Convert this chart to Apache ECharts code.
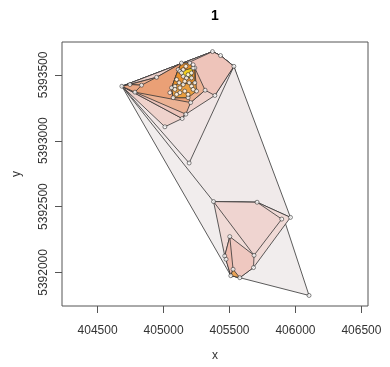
<!DOCTYPE html>
<html>
<head>
<meta charset="utf-8">
<script src="https://cdn.jsdelivr.net/npm/echarts@6/dist/echarts.min.js"></script>
<style>
  html, body { margin: 0; padding: 0; background: #fff; }
  #chart { width: 390px; height: 367px; }
</style>
</head>
<body>
<div id="chart"></div>
<script>
// Relocations (easting / northing, metres)
const xs = [
  404684, 404745, 404783, 404833, 404947, 405371, 405432, 405533, 405389, 405315,
  405205, 405169, 405141, 405010, 405194,
  405111, 405199, 405237, 405250, 405186, 405073, 405061, 405136,
  405124, 405224, 405212, 405149,
  405099, 405118, 405086, 405124, 405149, 405161, 405174, 405186, 405212, 405194,
  405212, 405161, 405124, 405099, 405086, 405186, 405224, 405237, 405149, 405169,
  405224, 405136, 405048,
  405379, 405709, 405962, 405896, 405502, 405464, 405474, 405686, 405682, 405527,
  405510, 405578, 406103
];
const ys = [
  5393414, 5393427, 5393369, 5393422, 5393482, 5393677, 5393647, 5393565, 5393344, 5393384,
  5393290, 5393202, 5393169, 5393106, 5392831,
  5393540, 5393590, 5393553, 5393377, 5393327, 5393327, 5393402, 5393590,
  5393527, 5393553, 5393477, 5393489,
  5393465, 5393440, 5393414, 5393402, 5393427, 5393452, 5393477, 5393502, 5393515, 5393440,
  5393414, 5393377, 5393365, 5393352, 5393390, 5393352, 5393390, 5393440, 5393540, 5393565,
  5393577, 5393515, 5393365,
  5392538, 5392533, 5392418, 5392405, 5392272, 5392125, 5392100, 5392130, 5392037, 5392024,
  5391975, 5391960, 5391825
];

// Hull outlines (relocation indices), drawn from the widest to the narrowest
const hulls = [
  [0, 5, 6, 7, 62, 61, 60],
  [0, 5, 6, 7, 52, 51, 50],
  [0, 5, 6, 7, 14],
  [50, 51, 52, 58, 61, 60, 56, 55],
  [50, 51, 53, 57],
  [54, 57, 58, 61, 60, 56, 55],
  [54, 59, 60, 55],
  [59, 60, 61],
  [0, 5, 6, 7, 8, 11, 12, 13],
  [0, 2, 11, 12],
  [0, 4, 5, 6, 7, 8, 9, 10, 12],
  [0, 1, 4, 22, 16, 17, 9, 10, 11, 2],
  [1, 3, 4, 22, 15, 21, 20, 19, 10, 2],
  [0, 1, 3, 2],
  [15, 22, 16, 17, 18, 19, 20, 21],
  [15, 22, 16, 17, 44, 36, 31, 28, 21],
  [23, 24, 25, 26]
];
const hullColors = [
  '#F1EDED', '#F0EAEA', '#F0E6E6',
  '#F0DAD6', '#EFD4D0', '#EFC8C0', '#EEBBAE', '#E9A256',
  '#EFD2CC', '#EECBC3', '#EEC4BA', '#ECB294', '#EAA076', '#EBA784',
  '#E99E40', '#E8902A', '#F2CF1E'
];

const xTicks = [404500, 405000, 405500, 406000, 406500];
const yTicks = [5392000, 5392500, 5393000, 5393500];

const FONT = "'Liberation Sans', Arial, sans-serif";
const plain = v => String(v);
const chart = echarts.init(document.getElementById('chart'), null, { renderer: 'canvas' });

chart.setOption({
  animation: false,
  backgroundColor: '#fff',
  graphic: [{
    type: 'text', x: 215, y: 16,
    style: { text: '1', fontFamily: FONT, fontWeight: 'bold', fontSize: 14, fill: '#000',
             textAlign: 'center', textVerticalAlign: 'middle' }
  }],
  grid: { left: 62, right: 22, top: 42, bottom: 58, show: true,
          borderColor: '#555', borderWidth: 1, backgroundColor: 'transparent' },
  xAxis: {
    type: 'value', min: 404230, max: 406550,
    name: 'x', nameLocation: 'middle', nameGap: 44,
    nameTextStyle: { fontFamily: FONT, fontSize: 12, color: '#333' },
    axisLine: { show: false }, splitLine: { show: false },
    axisTick: { show: true, length: 7, customValues: xTicks, lineStyle: { color: '#555' } },
    axisLabel: { customValues: xTicks, formatter: plain, margin: 19, fontFamily: FONT, fontSize: 12, color: '#333' }
  },
  yAxis: {
    type: 'value', min: 5391745, max: 5393750,
    name: 'y', nameLocation: 'middle', nameGap: 39,
    nameTextStyle: { fontFamily: FONT, fontSize: 12, color: '#333' },
    axisLine: { show: false }, splitLine: { show: false },
    axisTick: { show: true, length: 7, customValues: yTicks, lineStyle: { color: '#555' } },
    axisLabel: { customValues: yTicks, formatter: plain, rotate: 90, margin: 12, fontFamily: FONT, fontSize: 12, color: '#333' }
  },
  series: [
    {
      type: 'custom',
      coordinateSystem: 'cartesian2d',
      data: hulls.map((h, i) => [xs[h[0]], ys[h[0]], i]),
      renderItem: function (params, api) {
        const k = api.value(2);
        const pts = hulls[k].map(j => api.coord([xs[j], ys[j]]));
        return {
          type: 'polygon',
          shape: { points: pts },
          style: { fill: hullColors[k], stroke: '#333', lineWidth: 0.8 }
        };
      },
      silent: true
    },
    {
      type: 'scatter',
      data: xs.map((x, i) => [x, ys[i]]),
      symbol: 'circle',
      symbolSize: 4,
      itemStyle: { color: '#fff', borderColor: '#222', borderWidth: 0.7 },
      silent: true
    }
  ]
});
</script>
</body>
</html>
